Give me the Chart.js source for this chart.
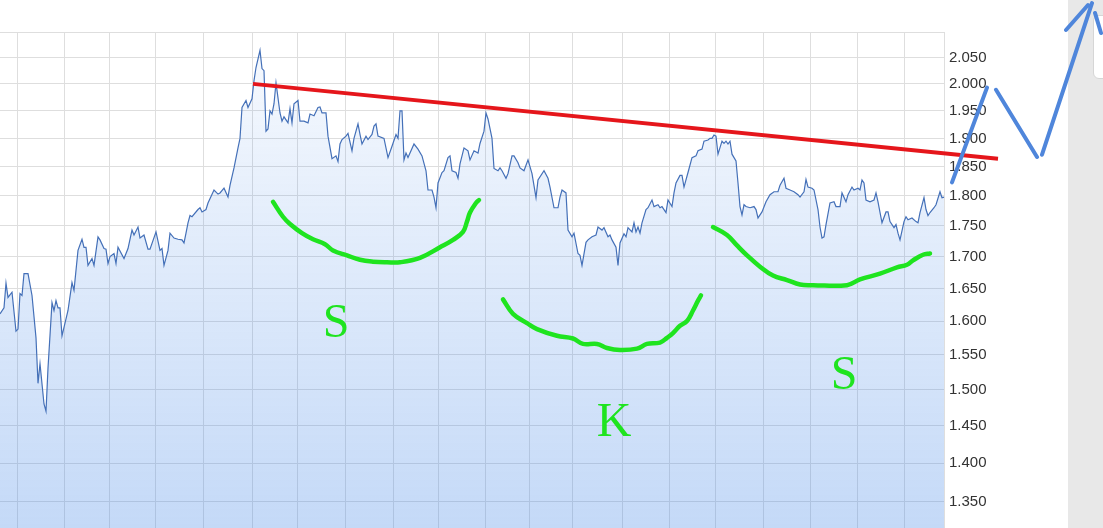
<!DOCTYPE html>
<html>
<head>
<meta charset="utf-8">
<script src="https://cdn.jsdelivr.net/npm/chart.js@4"></script>
<style>
  html, body { margin: 0; padding: 0; background: #fff; overflow: hidden; }
  #wrap { position: relative; width: 1103px; height: 528px; }
  #side { position: absolute; left: 1068px; top: 0; width: 35px; height: 528px; background: #e8e8e8; }
  #box { position: absolute; left: 1093px; top: 15px; width: 30px; height: 62px; background: #fff; border: 1px solid #d6d6d6; border-radius: 6px; }
  canvas { position: absolute; left: 0; top: 0; }
</style>
</head>
<body>
<div id="wrap">
  <div id="side"></div>
  <div id="box"></div>
  <canvas id="myChart" width="1103" height="528"></canvas>
</div>
<script>
// price series (session number, close)
const days = [
  0, 2, 3, 4, 6, 8, 9, 10, 11, 12,
  14, 16, 18, 19, 20, 22, 23, 24, 26, 27,
  28, 29, 30, 31, 34, 36, 37, 39, 41, 42,
  43, 44, 46, 47, 49, 50, 52, 53, 54, 55,
  57, 58, 59, 62, 64, 66, 67, 69, 70, 72,
  74, 75, 78, 80, 81, 82, 84, 85, 87, 89,
  91, 92, 93, 94, 95, 96, 99, 100, 101, 103,
  104, 107, 109, 110, 112, 114, 115, 117, 119, 120,
  121, 123, 124, 126, 127, 128, 130, 131, 132, 133,
  134, 135, 136, 137, 138, 140, 141, 142, 144, 145,
  146, 147, 149, 150, 152, 154, 155, 157, 159, 160,
  161, 163, 164, 166, 168, 169, 170, 171, 173, 174,
  176, 177, 179, 180, 181, 183, 184, 186, 187, 188,
  189, 192, 194, 196, 198, 199, 200, 201, 202, 203,
  204, 207, 209, 211, 213, 214, 216, 217, 218, 219,
  221, 222, 224, 225, 226, 228, 229, 230, 232, 234,
  235, 237, 239, 240, 242, 243, 244, 246, 247, 249,
  250, 251, 253, 254, 256, 257, 259, 260, 262, 264,
  266, 268, 269, 272, 274, 275, 277, 279, 280, 281,
  283, 284, 286, 287, 289, 290, 291, 293, 294, 296,
  298, 299, 301, 302, 304, 305, 306, 308, 309, 310,
  312, 313, 314, 316, 317, 318, 319, 320, 321, 323,
  324, 326, 327, 329, 330, 331, 333, 334, 336, 337,
  338, 340, 341, 342, 344, 346, 348, 349, 351, 352,
  354, 355, 356, 357, 358, 359, 361, 362, 363, 364,
  365, 366, 368, 369, 370, 371, 372, 373, 375, 377,
  378, 379, 381, 383, 385, 387, 389, 390, 392, 393,
  395, 397, 399, 400, 402, 403, 404, 406, 407, 409,
  410, 411, 412, 413, 415, 417, 418, 420, 421, 423,
  424, 426, 427, 429, 430, 431, 432, 433, 435, 437,
  438, 439, 441, 443, 444, 445, 447, 448, 449, 450,
  452, 453, 454, 456, 458, 459, 460, 462, 463, 464,
  465, 467, 468, 470, 471, 472
];
const closes = [
  1.611, 1.620, 1.658, 1.636, 1.644, 1.585, 1.588, 1.642, 1.639, 1.673,
  1.673, 1.639, 1.575, 1.509, 1.537, 1.480, 1.470, 1.531, 1.628, 1.616,
  1.631, 1.620, 1.620, 1.578, 1.616, 1.659, 1.647, 1.710, 1.728, 1.715,
  1.715, 1.686, 1.697, 1.686, 1.732, 1.727, 1.713, 1.712, 1.689, 1.700,
  1.705, 1.689, 1.715, 1.697, 1.713, 1.743, 1.735, 1.748, 1.730, 1.735,
  1.712, 1.712, 1.740, 1.710, 1.713, 1.686, 1.710, 1.738, 1.730, 1.728,
  1.727, 1.722, 1.738, 1.755, 1.767, 1.765, 1.777, 1.780, 1.773, 1.777,
  1.788, 1.810, 1.803, 1.805, 1.813, 1.798, 1.818, 1.848, 1.883, 1.900,
  1.956, 1.969, 1.956, 1.972, 2.006, 2.031, 2.064, 2.029, 2.025, 1.913,
  1.917, 1.950, 1.944, 1.963, 2.002, 1.946, 1.931, 1.939, 1.928, 1.954,
  1.928, 1.963, 1.969, 1.931, 1.931, 1.928, 1.944, 1.941, 1.956, 1.957,
  1.946, 1.946, 1.904, 1.864, 1.869, 1.859, 1.890, 1.898, 1.904, 1.909,
  1.878, 1.900, 1.926, 1.907, 1.890, 1.904, 1.898, 1.907, 1.922, 1.926,
  1.904, 1.900, 1.866, 1.886, 1.907, 1.900, 1.950, 1.950, 1.862, 1.874,
  1.866, 1.890, 1.881, 1.869, 1.843, 1.810, 1.810, 1.798, 1.780, 1.822,
  1.840, 1.843, 1.866, 1.869, 1.843, 1.840, 1.830, 1.855, 1.883, 1.878,
  1.862, 1.878, 1.874, 1.891, 1.913, 1.946, 1.935, 1.900, 1.847, 1.843,
  1.848, 1.843, 1.830, 1.838, 1.869, 1.869, 1.857, 1.848, 1.843, 1.862,
  1.838, 1.797, 1.827, 1.843, 1.830, 1.815, 1.780, 1.780, 1.798, 1.810,
  1.805, 1.743, 1.732, 1.738, 1.705, 1.702, 1.686, 1.723, 1.727, 1.732,
  1.735, 1.748, 1.743, 1.747, 1.732, 1.735, 1.727, 1.715, 1.686, 1.722,
  1.737, 1.732, 1.747, 1.740, 1.755, 1.740, 1.748, 1.738, 1.755, 1.777,
  1.780, 1.793, 1.782, 1.785, 1.780, 1.782, 1.772, 1.793, 1.782, 1.805,
  1.822, 1.835, 1.835, 1.815, 1.840, 1.866, 1.869, 1.878, 1.881, 1.895,
  1.897, 1.900, 1.900, 1.906, 1.904, 1.872, 1.895, 1.891, 1.895, 1.890,
  1.895, 1.872, 1.860, 1.822, 1.782, 1.768, 1.785, 1.782, 1.780, 1.782,
  1.777, 1.763, 1.773, 1.790, 1.802, 1.807, 1.807, 1.818, 1.830, 1.813,
  1.810, 1.807, 1.802, 1.798, 1.807, 1.828, 1.815, 1.813, 1.810, 1.777,
  1.748, 1.730, 1.732, 1.752, 1.788, 1.790, 1.782, 1.782, 1.805, 1.790,
  1.802, 1.815, 1.810, 1.813, 1.810, 1.827, 1.822, 1.793, 1.790, 1.793,
  1.805, 1.790, 1.755, 1.773, 1.773, 1.757, 1.747, 1.752, 1.738, 1.727,
  1.757, 1.765, 1.760, 1.763, 1.757, 1.755, 1.772, 1.797, 1.777, 1.767,
  1.772, 1.780, 1.785, 1.807, 1.797, 1.798
];

// axis
const firstDay = 0;
const lastDay = 472;
const monthTicks = [8.5, 32, 54.5, 77.5, 101.5, 126, 148.5, 172.5, 196.5, 219, 242.5, 264.5, 286, 311, 334.5, 357.5, 381.5, 405, 428.5, 452];
const yMin = 1.317;
const yMax = 2.1;
const priceTicks = [1.35, 1.40, 1.45, 1.50, 1.55, 1.60, 1.65, 1.70, 1.75, 1.80, 1.85, 1.90, 1.95, 2.00, 2.05, 2.10];

// hand drawn markup
const trendDays = [126.5, 499];
const trendValues = [2.000, 1.864];

const leftBowlDays = [136.5, 141.5, 145, 151, 156.5, 162.5, 166.5, 173.5, 180, 186.5, 193.5, 200, 210, 220, 226.5, 231.5, 233.5, 235, 238, 239.5];
const leftBowlValues = [1.790, 1.765, 1.753, 1.738, 1.728, 1.720, 1.710, 1.702, 1.695, 1.692, 1.691, 1.691, 1.698, 1.715, 1.727, 1.740, 1.757, 1.772, 1.788, 1.793];

const midBowlDays = [251.5, 256.5, 263.5, 268.5, 278.5, 286.5, 291.5, 298.5, 303.5, 310, 318.5, 323.5, 330, 333.5, 336.5, 340, 343.5, 346.5, 349, 350.5];
const midBowlValues = [1.633, 1.611, 1.597, 1.588, 1.578, 1.574, 1.566, 1.566, 1.560, 1.557, 1.559, 1.566, 1.568, 1.575, 1.582, 1.593, 1.600, 1.616, 1.631, 1.639];

const rightBowlDays = [356.5, 363.5, 368.5, 373.5, 380, 386.5, 393.5, 400, 406.5, 423.5, 430, 440, 448.5, 453.5, 456.5, 461.5, 465];
const rightBowlValues = [1.748, 1.735, 1.718, 1.702, 1.684, 1.670, 1.663, 1.656, 1.655, 1.655, 1.664, 1.673, 1.683, 1.687, 1.694, 1.703, 1.705];

const arrowDays = [476, 493.5, 495, 498, 518.5, 520, 521, 546, 540, 533, 544, 546, 547.5, 550.5];
const arrowValues = [1.823, 1.993, null, 1.989, 1.867, null, 1.871, 2.158, null, 2.104, 2.154, null, 2.138, 2.098];

const letterDays = [168, 307, 422];
const letterValues = [1.576, 1.436, 1.501];
const letterTexts = ['S', 'K', 'S'];

function pairs(xs, ys) {
  return xs.map((x, i) => ({ x: x, y: ys[i] }));
}

function areaFill(context) {
  const chart = context.chart;
  const area = chart.chartArea;
  if (!area) return 'rgba(60,130,230,0.15)';
  const g = chart.ctx.createLinearGradient(0, area.top, 0, area.bottom);
  g.addColorStop(0, 'rgba(60,130,230,0.04)');
  g.addColorStop(1, 'rgba(60,130,230,0.30)');
  return g;
}

const greenStroke = {
  borderColor: '#1fe41f',
  borderWidth: 4.5,
  borderCapStyle: 'round',
  borderJoinStyle: 'round',
  pointRadius: 0,
  tension: 0.4,
  fill: false,
  order: 2
};

const letters = {
  id: 'letters',
  afterDatasetsDraw(chart) {
    const ctx = chart.ctx;
    const xs = chart.scales.x, ys = chart.scales.y;
    ctx.save();
    ctx.font = '48px "Liberation Serif", "Times New Roman", serif';
    ctx.fillStyle = '#1fe41f';
    ctx.textAlign = 'center';
    ctx.textBaseline = 'alphabetic';
    letterTexts.forEach((t, i) => {
      ctx.fillText(t, xs.getPixelForValue(letterDays[i]), ys.getPixelForValue(letterValues[i]));
    });
    ctx.restore();
  }
};

let ctx = document.getElementById('myChart').getContext('2d');

let myChart = new Chart(ctx, {
  type: 'line',
  data: {
    datasets: [
      {
        data: pairs(arrowDays, arrowValues),
        borderColor: '#4f86db',
        borderWidth: 4,
        borderCapStyle: 'round',
        pointRadius: 0,
        spanGaps: false,
        fill: false,
        clip: false,
        order: 0
      },
      {
        data: pairs(trendDays, trendValues),
        borderColor: '#e5161b',
        borderWidth: 4,
        pointRadius: 0,
        fill: false,
        clip: false,
        order: 1
      },
      Object.assign({ data: pairs(leftBowlDays, leftBowlValues) }, greenStroke),
      Object.assign({ data: pairs(midBowlDays, midBowlValues) }, greenStroke),
      Object.assign({ data: pairs(rightBowlDays, rightBowlValues) }, greenStroke),
      {
        data: pairs(days, closes),
        borderColor: '#4470b8',
        borderWidth: 1.2,
        pointRadius: 0,
        tension: 0,
        fill: 'start',
        backgroundColor: areaFill,
        order: 5
      }
    ]
  },
  options: {
    responsive: false,
    animation: false,
    events: [],
    layout: { padding: { top: 32, left: 0, right: 0, bottom: 0 } },
    plugins: { legend: { display: false }, tooltip: { enabled: false } },
    scales: {
      x: {
        type: 'linear',
        bounds: 'data',
        afterDataLimits: (s) => { s.min = firstDay; s.max = lastDay; },
        afterBuildTicks: (s) => {
          s.min = firstDay; s.max = lastDay;
          s.ticks = monthTicks.map(v => ({ value: v }));
        },
        afterFit: (s) => {
          s.height = 0;
          s.paddingLeft = 0; s.paddingRight = 0; s.paddingTop = 0; s.paddingBottom = 0;
        },
        ticks: { display: false },
        grid: { color: '#dedede', drawTicks: false },
        border: { display: false }
      },
      y: {
        type: 'logarithmic',
        position: 'right',
        min: yMin,
        max: yMax,
        afterBuildTicks: (s) => {
          s.min = yMin; s.max = yMax;
          s.ticks = priceTicks.map(v => ({ value: v }));
        },
        afterFit: (s) => {
          s.width = 159;
          s.paddingTop = 0; s.paddingBottom = 0;
        },
        ticks: {
          padding: 5,
          color: '#333',
          font: { family: '"Liberation Sans", Arial, sans-serif', size: 15 },
          callback: (v) => (v >= 2.099 ? '' : Number(v).toFixed(3))
        },
        grid: { color: '#dedede', drawTicks: false },
        border: { display: true, color: '#dedede' }
      }
    }
  },
  plugins: [letters]
});
</script>
</body>
</html>
